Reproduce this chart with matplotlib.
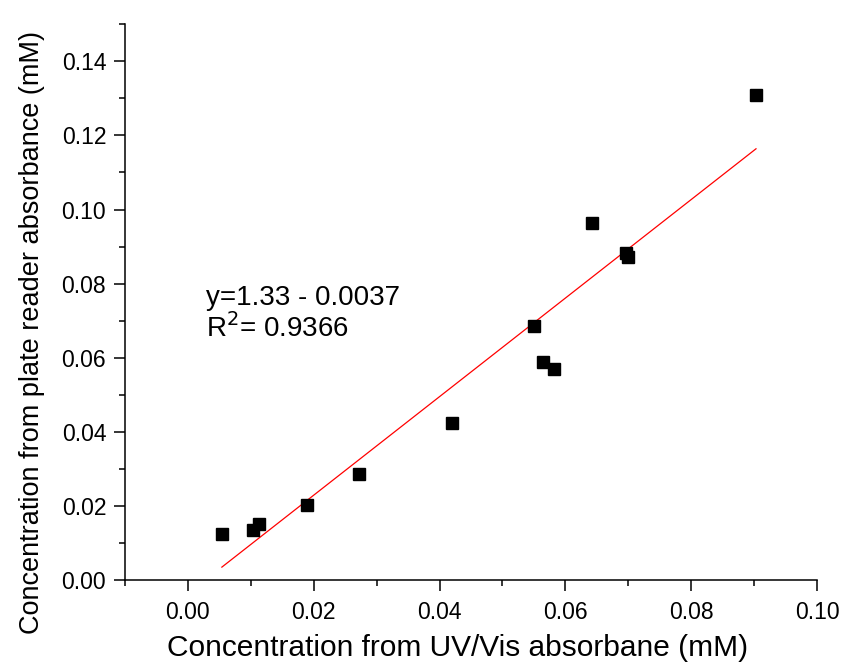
import numpy as np
import matplotlib
matplotlib.use('Agg')
import matplotlib.pyplot as plt
from matplotlib.ticker import MultipleLocator, FormatStrFormatter

plt.rcParams['font.family'] = ['Liberation Sans', 'DejaVu Sans']

# concentrations (mM)
aUvVis = [0.0054, 0.0103, 0.0113, 0.0190, 0.0272, 0.0420, 0.0550,
          0.0564, 0.0582, 0.0642, 0.0697, 0.0700, 0.0903]
aPlate = [0.0124, 0.0135, 0.0151, 0.0203, 0.0286, 0.0424, 0.0686,
          0.0589, 0.0570, 0.0964, 0.0883, 0.0873, 0.1310]

dSlope = 1.33
dIntercept = -0.0037
sFit_eq = 'y=1.33 - 0.0037'
sFit_r2 = 'R$^2$= 0.9366'

fig = plt.figure(figsize=(8.41, 6.66), dpi=100)
ax = fig.add_axes([0.1486, 0.1291, 0.8229, 0.8344])

ax.plot(aUvVis, aPlate, 's', color='black', markersize=8.5, zorder=3)

#fit line over the data range
aX_fit = np.array([min(aUvVis), max(aUvVis)])
ax.plot(aX_fit, dSlope * aX_fit + dIntercept, color='red', linewidth=0.9)

ax.text(0.0029, 0.0741, sFit_eq, fontsize=20, va='baseline')
ax.text(0.0029, 0.0657, sFit_r2, fontsize=20, va='baseline')

ax.set_xlim(-0.01, 0.10)
ax.set_ylim(0.0, 0.15)
ax.xaxis.set_major_locator(MultipleLocator(0.02))
ax.xaxis.set_minor_locator(MultipleLocator(0.01))
ax.yaxis.set_major_locator(MultipleLocator(0.02))
ax.yaxis.set_minor_locator(MultipleLocator(0.01))
ax.xaxis.set_major_formatter(FormatStrFormatter('%.2f'))
ax.yaxis.set_major_formatter(FormatStrFormatter('%.2f'))

for s in ['top', 'right']:
    ax.spines[s].set_visible(False)
for s in ['left', 'bottom']:
    ax.spines[s].set_linewidth(1.1)
ax.tick_params(which='major', direction='out', length=8, width=1.1, labelsize=16.5)
ax.tick_params(which='minor', direction='out', length=4.5, width=1.1)
ax.tick_params(axis='x', pad=7)
ax.tick_params(axis='y', pad=5.5)

ax.set_xlabel('Concentration from UV/Vis absorbane (mM)', fontsize=21.5)
ax.set_ylabel('Concentration from plate reader absorbance (mM)', fontsize=19.5)
ax.xaxis.set_label_coords(0.48, -0.098)
ax.yaxis.set_label_coords(-0.115, 0.446)

fig.savefig('out.png', dpi=100)
